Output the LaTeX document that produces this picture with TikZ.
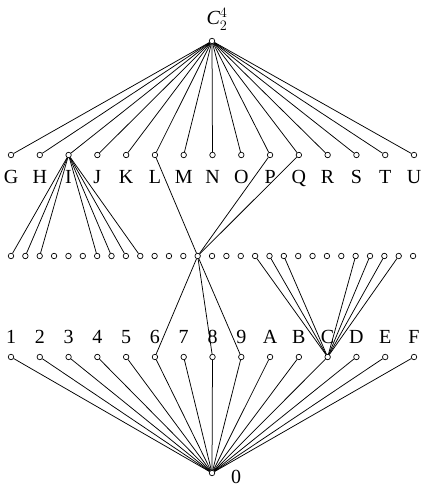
\documentclass[tikz,border=0pt]{standalone}
\usepackage{fontspec}
\setmainfont{Liberation Serif}
\begin{document}
\begin{tikzpicture}[x=1pt,y=1pt,
  vtx/.style={circle,draw,fill=white,inner sep=0pt,minimum size=5.5pt,line width=0.7pt},
  lab/.style={inner sep=0pt,anchor=base,font=\fontsize{20}{24}\selectfont},
  edge/.style={line width=0.75pt}]
\useasboundingbox (0,0) rectangle (424,487);
% top and bottom
\node[vtx] (top) at (212,446) {};
\node[lab] (ltop) at (217,462) {$\textit{C}_2^4$};
\node[vtx] (bot) at (212,14) {};
\node[lab] (lbot) at (236,4) {0};
% upper row G..U
\foreach \n [count=\i from 0] in {G,H,I,J,K,L,M,N,O,P,Q,R,S,T,U} {
  \node[vtx] (u\i) at ({11+28.786*\i},332) {};
  \node[lab] (lu\i) at ({11+28.786*\i},303) {\n};
}
% middle row
\foreach \k in {0,...,28} {
  \node[vtx] (m\k) at ({11+14.36*\k},231) {};
}
% lower row 1..F
\foreach \n [count=\i from 0] in {1,2,3,4,5,6,7,8,9,A,B,C,D,E,F} {
  \node[vtx] (d\i) at ({11+28.786*\i},130) {};
  \node[lab] (ld\i) at ({11+28.786*\i},143) {\n};
}
% edges
\foreach \i in {0,...,14} {
  \draw[edge] (top) -- (u\i);
  \draw[edge] (bot) -- (d\i);
}
\foreach \k in {0,1,2,6,7,8,9} { \draw[edge] (u2) -- (m\k); }
\foreach \i in {5,9,10} { \draw[edge] (u\i) -- (m13); }
\foreach \i in {5,7,8} { \draw[edge] (m13) -- (d\i); }
\foreach \k in {17,18,19,24,25,26,27} { \draw[edge] (d11) -- (m\k); }
\end{tikzpicture}
\end{document}
